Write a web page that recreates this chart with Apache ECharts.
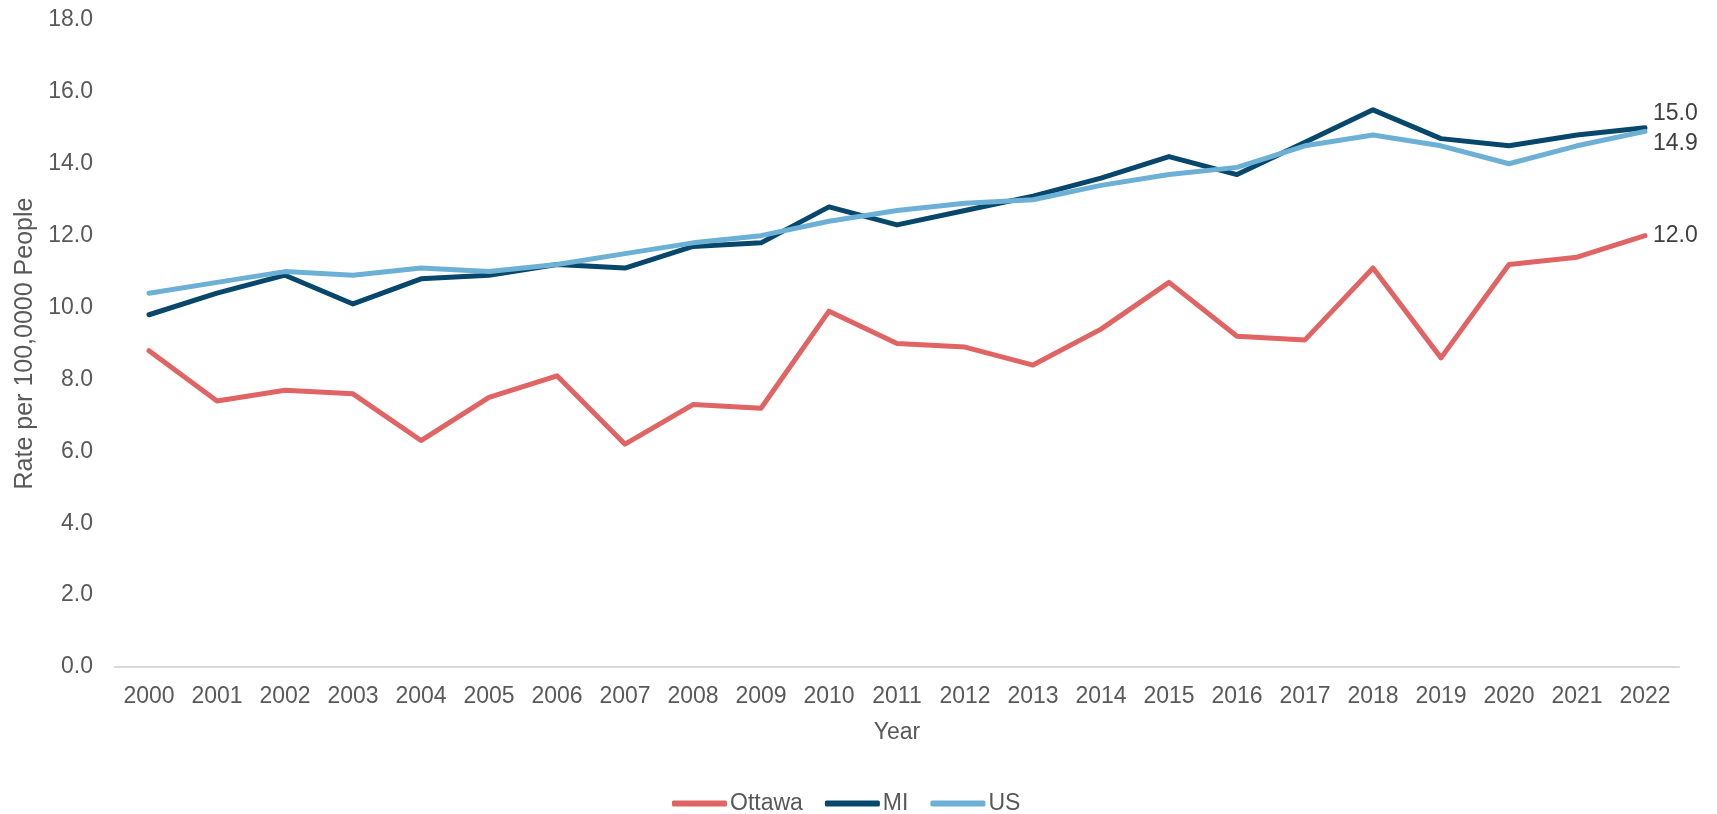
<!DOCTYPE html>
<html>
<head>
<meta charset="utf-8">
<script src="https://cdn.jsdelivr.net/npm/echarts@6/dist/echarts.min.js"></script>
<style>
html,body{margin:0;padding:0;background:#fff;}
#chart{width:1717px;height:814px;}
</style>
</head>
<body>
<div id="chart"></div>
<script>
const years = ['2000','2001','2002','2003','2004','2005','2006','2007','2008','2009','2010','2011','2012','2013','2014','2015','2016','2017','2018','2019','2020','2021','2022'];
const ottawa = [8.8,7.4,7.7,7.6,6.3,7.5,8.1,6.2,7.3,7.2,9.9,9.0,8.9,8.4,9.4,10.7,9.2,9.1,11.1,8.6,11.2,11.4,12.0];
const mi = [9.8,10.4,10.9,10.1,10.8,10.9,11.2,11.1,11.7,11.8,12.8,12.3,12.7,13.1,13.6,14.2,13.7,14.6,15.5,14.7,14.5,14.8,15.0];
const us = [10.4,10.7,11.0,10.9,11.1,11.0,11.2,11.5,11.8,12.0,12.4,12.7,12.9,13.0,13.4,13.7,13.9,14.5,14.8,14.5,14.0,14.5,14.9];
const seriesNames = ['Ottawa','MI','US'];
const yTicks = {min:0, max:18, interval:2};

const font = '"Liberation Sans", Arial, sans-serif';
const tickColor = '#595959';

function lineSeries(name, data, color, offset){
  return {
    name: name,
    type: 'line',
    data: data,
    showSymbol: false,
    symbol: 'none',
    lineStyle: {color: color, width: 5, cap: 'round', join: 'round'},
    itemStyle: {color: color},
    endLabel: {
      show: true,
      formatter: p => Number(p.value).toFixed(1),
      color: '#404040',
      fontFamily: font,
      fontSize: 23,
      distance: 8,
      offset: offset
    }
  };
}

const chart = echarts.init(document.getElementById('chart'));
chart.setOption({
  animation: false,
  textStyle: {fontFamily: font},
  grid: {left: 115, right: 38, top: 20, bottom: 147, containLabel: false},
  legend: {
    data: seriesNames.map(n => ({name: n, icon: 'roundRect'})),
    top: 787,
    left: 667,
    itemWidth: 55,
    itemHeight: 6,
    itemGap: 22,
    textStyle: {color: tickColor, fontSize: 23, fontFamily: font, padding: [0,0,0,-2]}
  },
  xAxis: {
    type: 'category',
    data: years,
    boundaryGap: true,
    name: 'Year',
    nameLocation: 'middle',
    nameGap: 54,
    nameTextStyle: {color: tickColor, fontSize: 23, fontFamily: font},
    axisLine: {show: true, lineStyle: {color: '#d9d9d9', width: 2}},
    axisTick: {show: false},
    axisLabel: {color: tickColor, fontSize: 23, fontFamily: font, margin: 18, interval: 0}
  },
  yAxis: {
    type: 'value',
    min: yTicks.min,
    max: yTicks.max,
    interval: yTicks.interval,
    name: 'Rate per 100,0000 People',
    nameLocation: 'middle',
    nameGap: 75,
    nameTextStyle: {color: tickColor, fontSize: 25, fontFamily: font},
    axisLine: {show: false},
    axisTick: {show: false},
    splitLine: {show: false},
    axisLabel: {color: tickColor, fontSize: 23, fontFamily: font, margin: 22, formatter: v => v.toFixed(1)}
  },
  series: [
    lineSeries('Ottawa', ottawa, '#e06464', [0,0]),
    lineSeries('MI', mi, '#07476c', [0,-14]),
    lineSeries('US', us, '#6cb0d6', [0,12])
  ]
});
</script>
</body>
</html>
